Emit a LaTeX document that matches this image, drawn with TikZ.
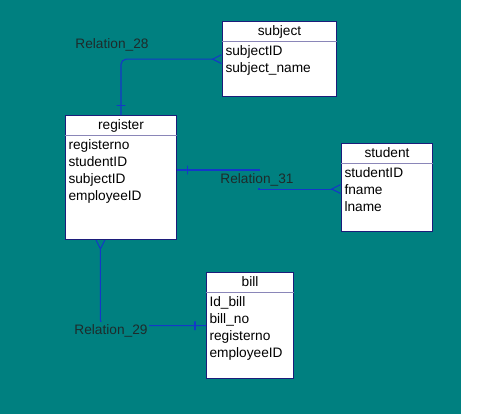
\documentclass[tikz,border=0pt]{standalone}
\usepackage{fontspec}
\setmainfont{Liberation Sans}
\usetikzlibrary{positioning, arrows.meta, shapes.multipart}

\definecolor{bgteal}{HTML}{008080}
\definecolor{edgeblue}{HTML}{1438C8}
\definecolor{boxnavy}{HTML}{1C1C7A}
\definecolor{splitgray}{HTML}{8A86B8}
\definecolor{labelink}{HTML}{1E2B2B}

\newcommand{\fieldlist}[2]{\parbox[t][#1][t]{\linewidth}{\raggedright\strut #2}}

\tikzset{
  entity/.style   = {draw=boxnavy, fill=white, rectangle split, rectangle split parts=2,
                     rectangle split draw splits=false, anchor=north west, align=center,
                     inner xsep=1.7pt, inner ysep=0.6pt, line width=0.6pt,
                     font=\fontsize{7.8}{9.7}\selectfont},
  splitline/.style = {draw=splitgray, line width=0.6pt},
  relline/.style  = {draw=edgeblue, line width=0.6pt, rounded corners=3pt},
  crowend/.style  = {-{Straight Barb[reversed, length=5pt, width=5pt]}},
  crowstart/.style = {{Straight Barb[reversed, length=5pt, width=5pt]}-},
  tickmark/.style = {sloped, sharp corners, draw=edgeblue, line width=0.6pt, minimum width=0pt,
                     minimum height=5pt, inner sep=0pt, outer sep=0pt},
  rellabel/.style = {fill=bgteal, text=labelink, inner xsep=1pt, inner ysep=1.3pt,
                     font=\fontsize{7.8}{9.7}\selectfont}
}

\begin{document}
\begin{tikzpicture}[x=0.02cm, y=-0.02cm]
  \fill[white] (0,0) rectangle (500,414);
  \fill[bgteal] (0,0) rectangle (461,414);
  \useasboundingbox (0,0) rectangle (500,414);

  % entities
  \node[entity, text width=2.16cm] (subject) at (222,21)
    {\strut subject\nodepart{two}\fieldlist{29.5pt}{subjectID\\ subject\_name}};
  \node[entity, text width=2.10cm] (register) at (65,115)
    {\strut register\nodepart{two}\fieldlist{57pt}{registerno\\ studentID\\ subjectID\\ employeeID}};
  \node[entity, text width=1.70cm] (student) at (341,143)
    {\strut student\nodepart{two}\fieldlist{36.8pt}{studentID\\ fname\\ lname}};
  \node[entity, text width=1.62cm] (bill) at (206,272)
    {\strut bill\nodepart{two}\fieldlist{47.2pt}{Id\_bill\\ bill\_no\\ registerno\\ employeeID}};

  \foreach \e in {subject, register, student, bill}
    \draw[splitline] (\e.text split west) -- (\e.text split east);

  % relations
  \draw[relline, crowend] (register.north) |- node[tickmark, pos=0.088]{} (subject.west);
  \draw[relline, sharp corners, crowend] ([yshift=-31.3pt]register.north east)
    -- node[tickmark, pos=0.13]{} ++(82,0) |- ([yshift=-26.2pt]student.north west);
  \draw[relline, crowstart] ([xshift=-11.7pt]register.south) |- node[tickmark, pos=0.948]{} (bill.west);

  \node[rellabel] (lbl28) at (112,45)  {Relation\_28};
  \node[rellabel] (lbl31) at (257,179.5) {Relation\_31};
  \node[rellabel] (lbl29) at (111,331) {Relation\_29};
\end{tikzpicture}
\end{document}
